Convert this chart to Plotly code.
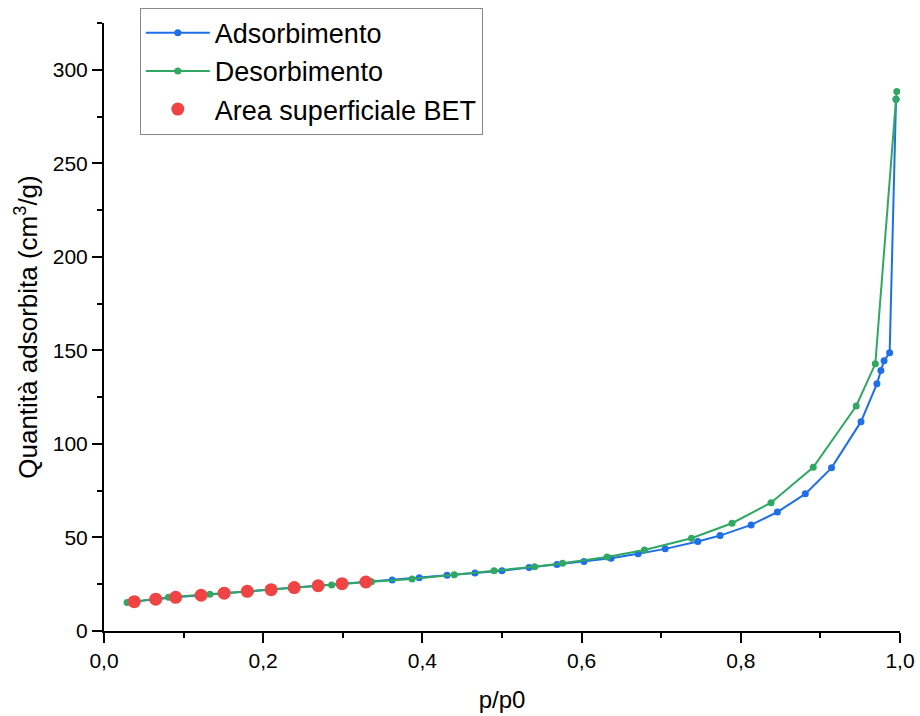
import plotly.graph_objects as go

# Adsorption branch (p/p0, cm3/g)
ads_p = [0.038, 0.065, 0.090, 0.122, 0.151, 0.180, 0.210, 0.239, 0.269, 0.299, 0.329,
         0.362, 0.396, 0.431, 0.466, 0.500, 0.534, 0.569, 0.603, 0.637, 0.671, 0.705,
         0.746, 0.774, 0.813, 0.846, 0.881, 0.914, 0.951, 0.971, 0.976, 0.980, 0.987, 0.995]
ads_q = [15.7, 17.0, 18.0, 19.1, 20.2, 21.2, 22.1, 23.2, 24.2, 25.3, 26.2,
         27.3, 28.5, 29.8, 31.0, 32.2, 33.9, 35.5, 37.1, 38.9, 41.3, 43.9,
         47.8, 51.0, 56.7, 63.6, 73.3, 87.2, 111.9, 132.1, 139.2, 144.4, 148.8, 284.3]

# Desorption branch
des_p = [0.996, 0.995, 0.969, 0.945, 0.891, 0.838, 0.789, 0.738, 0.679, 0.632, 0.576,
         0.541, 0.490, 0.440, 0.387, 0.336, 0.286, 0.235, 0.184, 0.133, 0.081, 0.029]
des_q = [288.4, 284.3, 142.8, 120.3, 87.5, 68.6, 57.6, 49.6, 43.3, 39.6, 36.2,
         34.4, 32.2, 30.1, 27.8, 26.3, 24.6, 23.0, 21.3, 19.6, 18.0, 15.3]

# BET surface area points
bet_p = [0.038, 0.065, 0.090, 0.122, 0.151, 0.180, 0.210, 0.239, 0.269, 0.299, 0.329]
bet_q = [15.7, 17.0, 18.0, 19.1, 20.2, 21.2, 22.1, 23.2, 24.2, 25.3, 26.2]

BLUE = "#1f6fe6"
GREEN = "#30a864"
RED = "#f04343"
FONT = "Liberation Sans, Arial, sans-serif"

fig = go.Figure()
fig.add_trace(go.Scatter(x=ads_p, y=ads_q, mode="lines+markers", name="Adsorbimento",
                         line=dict(color=BLUE, width=2), marker=dict(color=BLUE, size=7)))
fig.add_trace(go.Scatter(x=des_p, y=des_q, mode="lines+markers", name="Desorbimento",
                         line=dict(color=GREEN, width=2), marker=dict(color=GREEN, size=7)))
fig.add_trace(go.Scatter(x=bet_p, y=bet_q, mode="markers", name="Area superficiale BET",
                         marker=dict(color=RED, size=13)))

axis_common = dict(showline=True, linewidth=2, linecolor="black", showgrid=False,
                   zeroline=False, ticks="outside", ticklen=10, tickwidth=2,
                   tickcolor="black", mirror=False,
                   tickfont=dict(family=FONT, size=21, color="black"))

fig.update_xaxes(range=[0, 1.0], dtick=0.2, tickformat=".1f",
                 minor=dict(ticks="outside", ticklen=5, tickwidth=2, dtick=0.1, tickcolor="black"),
                 title=dict(text="p/p0", font=dict(family=FONT, size=24, color="black"), standoff=20),
                 **axis_common)
fig.update_yaxes(range=[0, 325], dtick=50,
                 minor=dict(ticks="outside", ticklen=5, tickwidth=2, dtick=25, tickcolor="black"),
                 title=dict(text="Quantità adsorbita (cm<sup>3</sup>/g)",
                            font=dict(family=FONT, size=26, color="black"), standoff=8),
                 **axis_common)

fig.update_layout(
    width=920, height=716,
    margin=dict(l=104, r=20, t=23, b=85, autoexpand=False),
    paper_bgcolor="white", plot_bgcolor="white",
    separators=",.",
    font=dict(family=FONT, color="black"),
    showlegend=True,
    legend=dict(x=0.045, y=1.025, xanchor="left", yanchor="top",
                bgcolor="white", bordercolor="#888888", borderwidth=1,
                font=dict(family=FONT, size=27, color="black"),
                itemwidth=64, tracegroupgap=0),
)

fig.write_html("out.html")
